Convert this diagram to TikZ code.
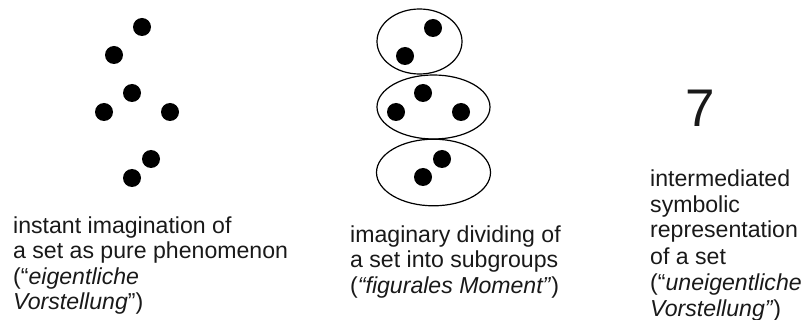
\documentclass[tikz,border=0pt]{standalone}
\usepackage{fontspec}
\setmainfont{Liberation Sans}
\begin{document}
\begin{tikzpicture}[x=1pt,y=-1pt,
  dot/.style={circle,fill=black,inner sep=0pt,minimum size=18pt},
  grp/.style={draw=black,line width=1.2pt},
  caption/.style={anchor=base west,inner sep=0pt,align=left,
    font=\fontsize{23.1}{25.5}\selectfont,text=black!90}]
\useasboundingbox (0,0) rectangle (805,320);
% left set
\node[dot] (l1) at (142,27) {};
\node[dot] (l2) at (114,55) {};
\node[dot] (l3) at (132,93) {};
\node[dot] (l4) at (104,112) {};
\node[dot] (l5) at (170,112) {};
\node[dot] (l6) at (151,159) {};
\node[dot] (l7) at (132,178) {};
% middle set
\draw[grp] (419.5,41.5) ellipse [x radius=42.5, y radius=32.5];
\draw[grp] (433.5,107) ellipse [x radius=56.5, y radius=32];
\draw[grp] (433.5,172.5) ellipse [x radius=57, y radius=33.3];
\node[dot] (m1) at (433,28) {};
\node[dot] (m2) at (405,56) {};
\node[dot] (m3) at (423,93) {};
\node[dot] (m4) at (396,112) {};
\node[dot] (m5) at (461,112) {};
\node[dot] (m6) at (442,159) {};
\node[dot] (m7) at (423,177) {};
% right symbol
\node[inner sep=0pt,font=\fontsize{53}{60}\selectfont,text=black!90] (seven) at (700,108) {7};
% captions
\node[caption] (capl) at (13,309.5) {instant imagination of\\a set as pure phenomenon\\(“\textit{eigentliche}\\\textit{Vorstellung}”)};
\node[caption] (capm) at (350,293) {imaginary dividing of\\a set into subgroups\\(\textit{“figurales Moment”})};
\node[caption,font=\fontsize{23.1}{26}\selectfont] (capr) at (650,316) {intermediated\\symbolic\\representation\\of a set\\(“\textit{uneigentliche}\\\textit{Vorstellung”})};
\end{tikzpicture}
\end{document}
